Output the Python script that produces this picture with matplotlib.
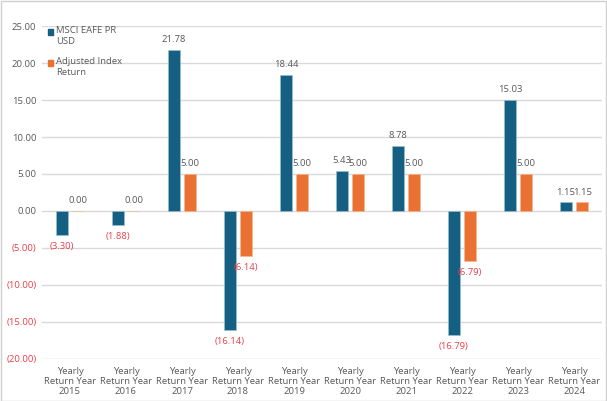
import numpy as np
import matplotlib.pyplot as plt
from matplotlib.patches import Rectangle

years = ["2015", "2016", "2017", "2018", "2019", "2020", "2021", "2022", "2023", "2024"]
msci = [-3.30, -1.88, 21.78, -16.14, 18.44, 5.43, 8.78, -16.79, 15.03, 1.15]
adjusted = [0.00, 0.00, 5.00, -6.14, 5.00, 5.00, 5.00, -6.79, 5.00, 1.15]
yticks = [25, 20, 15, 10, 5, 0, -5, -10, -15, -20]
series_names = ["MSCI EAFE PR\nUSD", "Adjusted Index\nReturn"]

BLUE = "#156082"
ORANGE = "#E97132"
GREY = "#595959"
RED = "#E8404A"
FS = 6.8

plt.rcParams["font.family"] = ["Open Sans", "DejaVu Sans"]


def fmt(v):
    return f"({abs(v):.2f})" if v < 0 else f"{v:.2f}"


fig = plt.figure(figsize=(6.07, 4.01), dpi=100)
ax = fig.add_axes([0.069, 0.105, 0.923, 0.83])
fig.patches.append(Rectangle((0.001, 0.001), 0.997, 0.997, transform=fig.transFigure,
                             fill=False, edgecolor="#d0d0d0", linewidth=1))

x = np.arange(len(years))
w = 0.22
off = 0.145
b1 = ax.bar(x - off, msci, w, color=BLUE, edgecolor="#9cc3d5", linewidth=0.4, zorder=3)
b2 = ax.bar(x + off, adjusted, w, color=ORANGE, edgecolor="#f5b894", linewidth=0.4, zorder=3)

for bars, vals in ((b1, msci), (b2, adjusted)):
    for rect, v in zip(bars, vals):
        cx = rect.get_x() + rect.get_width() / 2
        if v < 0:
            ax.annotate(fmt(v), (cx, v), xytext=(0, -5), textcoords="offset points",
                        ha="center", va="top", fontsize=FS, color=RED)
        else:
            ax.annotate(fmt(v), (cx, v), xytext=(0, 4), textcoords="offset points",
                        ha="center", va="bottom", fontsize=FS, color=GREY)

ax.set_ylim(-20, 25)
ax.set_xlim(-0.5, len(years) - 0.5)
ax.set_yticks(yticks)
ax.set_yticklabels([fmt(t) for t in yticks], fontsize=FS)
for lab, t in zip(ax.get_yticklabels(), yticks):
    lab.set_color(RED if t < 0 else GREY)
ax.set_xticks(x)
ax.set_xticklabels([f"Yearly\nReturn Year\n{y}" for y in years], fontsize=FS,
                   color=GREY, linespacing=1.15)
ax.tick_params(length=0, pad=4)
ax.tick_params(axis="x", pad=6)
ax.grid(axis="y", color="#d9d9d9", linewidth=1, zorder=0)
for s in ax.spines.values():
    s.set_visible(False)

# legend drawn by hand so the square sits next to the first line of text
for i, (name, col) in enumerate(zip(series_names, [BLUE, ORANGE])):
    ytop = 0.982 - i * 0.093
    ax.add_patch(Rectangle((0.011, ytop - 0.008), 0.009, 0.016, transform=ax.transAxes,
                           color=col, zorder=4))
    ax.text(0.025, ytop + 0.019, name, transform=ax.transAxes, ha="left", va="top",
            fontsize=FS, color=GREY, linespacing=1.3)

fig.savefig("out.png", dpi=100)
